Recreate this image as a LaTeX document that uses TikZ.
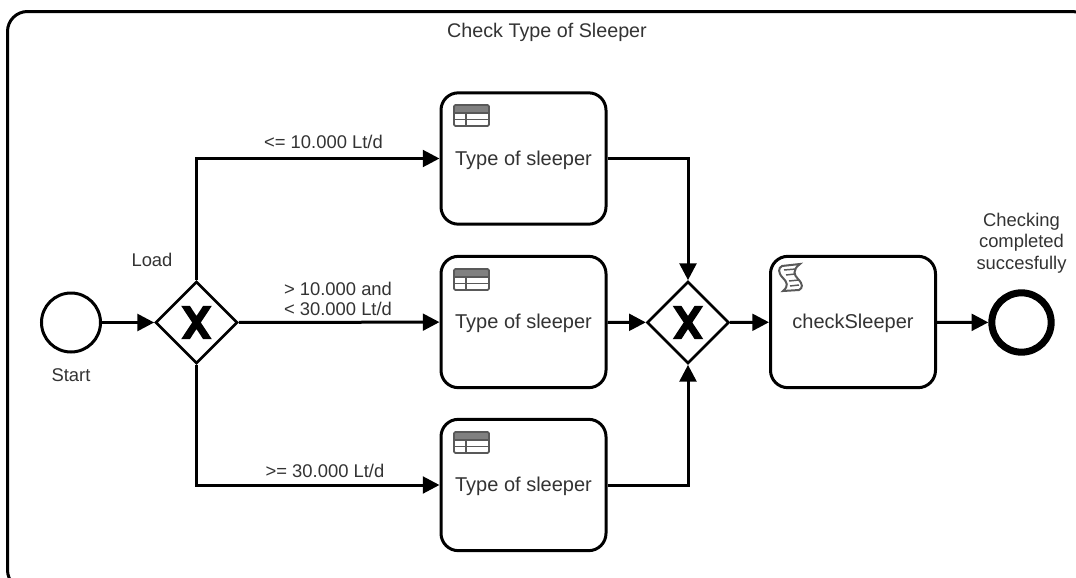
\documentclass[tikz,border=0pt]{standalone}
\usepackage{fontspec}
\setmainfont{Liberation Sans}
\usetikzlibrary{arrows.meta,shapes.geometric}

\begin{document}
\begin{tikzpicture}[x=0.75pt,y=-0.75pt,>={Triangle[length=12.5pt,width=12.5pt]}]

% --- Style definitions ---
\tikzset{
    kader/.style={draw=black, line width=2.25pt, rounded corners=15pt},
    taak/.style={
        draw=black,
        line width=2.25pt,
        rounded corners=13pt,
        minimum width=123.75pt,
        minimum height=98.5pt,
        inner sep=0pt,
        text=black!80,
        text height=10.4pt,
        text depth=0pt,
        font=\fontsize{15}{17}\selectfont
    },
    gateway/.style={
        diamond,
        aspect=1,
        draw=black,
        line width=2pt,
        minimum size=61.5pt,
        inner sep=0pt,
        path picture={
            \fill[shift={(path picture bounding box.center)}]
                (-11.5pt,-12.5pt) -- (-5pt,-12.5pt) -- (0pt,-4.9pt) -- (5pt,-12.5pt)
                -- (11.5pt,-12.5pt) -- (3.25pt,0pt) -- (11.5pt,12.5pt) -- (5pt,12.5pt)
                -- (0pt,4.9pt) -- (-5pt,12.5pt) -- (-11.5pt,12.5pt) -- (-3.25pt,0pt) -- cycle;
        }
    },
    start/.style={circle, draw=black, line width=2.25pt, minimum size=44.25pt, inner sep=0pt},
    eind/.style={circle, draw=black, line width=5.25pt, minimum size=44.5pt, inner sep=0pt},
    tekst/.style={
        text=black!80,
        align=center,
        inner sep=0pt,
        font=\fontsize{13.8}{15.5}\selectfont
    },
    pijl/.style={->, line width=2.25pt, draw=black},
    tabel/.pic={
        \fill[black!50] (454,105) rectangle (489,112);
        \draw[black!65, line width=1.3pt, rounded corners=1pt] (454,105) rectangle (489,126);
        \draw[black!65, line width=1.1pt]
            (454,113) -- (489,113)
            (454,119.5) -- (489,119.5)
            (466,113) -- (466,126);
    },
    script/.pic={
        \draw[black!65, line width=1.5pt]
            (782,266) -- (800,264)
            .. controls (792,270) and (794,275) .. (798,279)
            .. controls (803,284) and (803,288) .. (799,290)
            -- (783,291)
            .. controls (789,286) and (787,282) .. (783,278)
            .. controls (778,273) and (778,268) .. (782,266) -- cycle;
        \draw[black!65, line width=1.1pt]
            (784,270) -- (796,269)
            (786,275) -- (795,274)
            (789,281) -- (799,280)
            (790,286) -- (799,285);
    }
}

\useasboundingbox (0,0) rectangle (1076,578);

% --- Frame ---
\draw[kader] (7.5,11.5) rectangle (1092,590);
\node[tekst, font=\fontsize{14.8}{17}\selectfont] (titel) at (547,32) {Check Type of Sleeper};

% --- Nodes ---
\node[start] (begin) at (71,322.5) {};
\node[gateway] (keuze) at (196.5,322.5) {};
\node[taak] (taak1) at (523.5,158.5) {Type of sleeper};
\node[taak] (taak2) at (523.5,322) {Type of sleeper};
\node[taak] (taak3) at (523.5,485) {Type of sleeper};
\node[gateway] (samen) at (688,322.5) {};
\node[taak] (check) at (853,322) {checkSleeper};
\node[eind] (einde) at (1021.5,322.5) {};

% --- Icons ---
\pic at (0,0) {tabel};
\pic at (0,164) {tabel};
\pic at (0,327) {tabel};
\pic at (0,0) {script};

% --- Labels ---
\node[tekst] (lstart) at (71,375) {Start};
\node[tekst] (lload) at (152,260) {Load};
\node[tekst, font=\fontsize{13.8}{16.2}\selectfont] (leind) at (1021.5,243) {Checking\\completed\\succesfully};
\node[tekst] (l1) at (323.5,142) {<= 10.000 Lt/d};
\node[tekst] (l2) at (338,299) {> 10.000 and\\< 30.000 Lt/d};
\node[tekst] (l3) at (325,471) {>= 30.000 Lt/d};

% --- Arrows ---
\draw[pijl] (begin) -- (keuze);
\draw[pijl] (keuze) |- (taak1);
\draw[pijl] (keuze) -- (taak2);
\draw[pijl] (keuze) |- (taak3);
\draw[pijl] (taak1) -| (samen);
\draw[pijl] (taak2) -- (samen);
\draw[pijl] (taak3) -| (samen);
\draw[pijl] (samen) -- (check);
\draw[pijl] (check) -- (einde);
\end{tikzpicture}
\end{document}
